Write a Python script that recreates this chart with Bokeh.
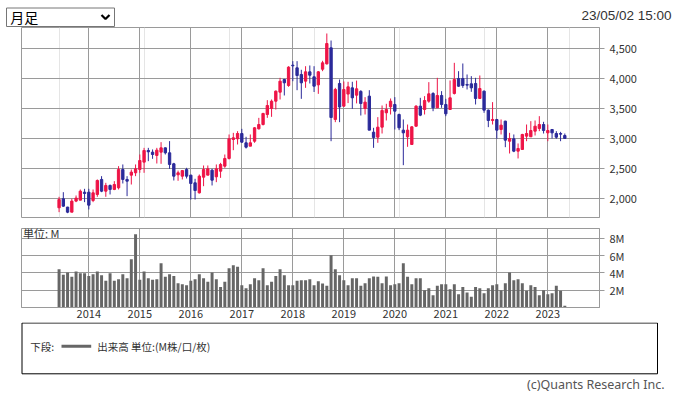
from bokeh.plotting import figure
from bokeh.layouts import column
from bokeh.models import (Range1d, FixedTicker, Grid, ColumnDataSource, Label,
                          NumeralTickFormatter, PrintfTickFormatter)
from bokeh.core.properties import value
from bokeh.embed import file_html
from bokeh.resources import INLINE

# ---------------- data (monthly, Jun 2013 .. May 2023) ----------------
start_year, start_month = 2013, 6
open_ = [1850, 2000, 1861, 1777, 1961, 1977, 2110, 2110, 1972, 2072,
         2322, 2127, 2222, 2155, 2183, 2488, 2322, 2394, 2433, 2488,
         2611, 2805, 2777, 2722, 2777, 2849, 2766, 2583, 2400, 2377,
         2488, 2394, 2266, 2099, 2360, 2394, 2477, 2366, 2460, 2544,
         2672, 2988, 3000, 3088, 2933, 2877, 2960, 3166, 3238, 3405,
         3505, 3627, 3777, 3988, 3888, 4227, 4183, 4072, 3961, 4116,
         4033, 3899, 4160, 4249, 4516, 3322, 3922, 3544, 3745, 3849,
         3727, 3790, 3505, 3711, 3110, 3027, 3194, 3433, 3533, 3572,
         3405, 3144, 3033, 2905, 3210, 3544, 3488, 3627, 3755, 3516,
         3722, 3572, 3488, 3755, 4005, 4005, 3905, 3916, 3922, 3672,
         3794, 3477, 3305, 3322, 3155, 3294, 2960, 3000, 2794, 2822,
         3044, 3033, 3127, 3172, 3238, 3099, 3155, 3088, 3088, 3055]
high = [2033, 2110, 1866, 2000, 2055, 2155, 2166, 2166, 2155, 2322,
        2377, 2266, 2238, 2294, 2544, 2572, 2377, 2488, 2572, 2738,
        2849, 2849, 2822, 2849, 2944, 2855, 2961, 2599, 2470, 2480,
        2516, 2400, 2333, 2405, 2555, 2555, 2499, 2572, 2599, 2738,
        3072, 3099, 3127, 3166, 3033, 3072, 3194, 3349, 3433, 3644,
        3655, 3805, 4016, 3999, 4210, 4294, 4294, 4150, 4210, 4222,
        4210, 4130, 4300, 4755, 4638, 3849, 3988, 3955, 3950, 3950,
        3970, 3810, 3694, 3810, 3183, 3361, 3555, 3583, 3672, 3694,
        3420, 3322, 3238, 3210, 3560, 3683, 3711, 3944, 3777, 4016,
        3794, 3666, 3972, 4266, 4127, 4255, 4072, 4044, 4016, 4055,
        3805, 3488, 3611, 3330, 3322, 3300, 3099, 3072, 2922, 3083,
        3238, 3294, 3305, 3377, 3283, 3238, 3160, 3127, 3116, 3088]
low = [1777, 1866, 1760, 1777, 1944, 1977, 1944, 1822, 1944, 2033,
       2110, 2033, 2072, 2144, 2155, 2255, 2044, 2238, 2377, 2433,
       2433, 2627, 2666, 2588, 2583, 2738, 2499, 2305, 2300, 2322,
       2338, 1988, 1988, 2088, 2210, 2394, 2222, 2277, 2349, 2516,
       2655, 2810, 2905, 2933, 2838, 2877, 2933, 3155, 3222, 3349,
       3366, 3488, 3655, 3722, 3866, 3960, 3810, 3666, 3849, 3922,
       3780, 3749, 4127, 4238, 2960, 3277, 3277, 3533, 3595, 3500,
       3590, 3388, 3405, 3144, 2849, 2933, 3088, 3305, 3405, 3155,
       3144, 2560, 2866, 2905, 3200, 3377, 3405, 3600, 3460, 3516,
       3516, 3377, 3480, 3738, 3866, 3849, 3822, 3783, 3572, 3672,
       3433, 3194, 3238, 3000, 3072, 2860, 2755, 2777, 2672, 2815,
       2960, 3033, 3055, 3127, 3088, 2960, 3005, 3000, 2960, 3000]
close = [1988, 1877, 1777, 1961, 2011, 2127, 2088, 1894, 2099, 2305,
         2127, 2222, 2155, 2238, 2488, 2322, 2294, 2444, 2499, 2638,
         2805, 2783, 2738, 2811, 2849, 2766, 2572, 2377, 2433, 2470,
         2377, 2255, 2138, 2377, 2488, 2499, 2310, 2499, 2572, 2672,
         3000, 3016, 3088, 2944, 2860, 2933, 3183, 3238, 3422, 3555,
         3627, 3794, 3960, 3933, 4194, 4216, 4055, 3933, 4116, 4060,
         3877, 4116, 4266, 4588, 3355, 3822, 3530, 3822, 3866, 3683,
         3833, 3588, 3611, 3144, 3022, 3194, 3472, 3488, 3627, 3461,
         3183, 3099, 3144, 3199, 3544, 3394, 3638, 3749, 3516, 3722,
         3572, 3416, 3683, 3988, 3877, 3888, 3894, 3849, 3672, 3838,
         3477, 3305, 3322, 3144, 3227, 2977, 3005, 2794, 2838, 3072,
         3088, 3138, 3210, 3238, 3138, 3138, 3099, 3027, 3077, 3005]
volume_m = [4.42, 3.77, 4.04, 3.54, 4.15, 3.96, 3.96, 3.65, 3.84, 4.15,
            3.73, 3.08, 3.96, 3.08, 3.27, 3.84, 3.38, 5.58, 8.46, 3.19,
            4.15, 3.38, 3.19, 3.27, 5.12, 3.54, 3.84, 3.65, 2.81, 2.69,
            2.58, 3.08, 3.27, 3.84, 3.38, 2.96, 4.04, 3.27, 2.38, 2.96,
            4.54, 4.88, 4.69, 2.58, 2.23, 2.69, 3.38, 3.15, 4.54, 2.58,
            2.96, 3.65, 4.42, 3.73, 2.58, 2.58, 3.08, 3.15, 3.15, 3.27,
            2.58, 3.04, 2.77, 2.50, 6.04, 4.42, 3.73, 3.15, 2.58, 3.38,
            3.38, 2.50, 2.81, 3.38, 3.58, 3.54, 2.81, 3.58, 2.58, 2.69,
            2.81, 5.12, 3.54, 2.69, 3.38, 3.38, 2.00, 2.23, 1.42, 2.50,
            2.69, 2.69, 2.11, 2.69, 1.54, 2.38, 1.73, 1.23, 2.38, 2.23,
            1.65, 2.23, 2.58, 2.69, 2.00, 2.81, 4.04, 3.15, 3.27, 2.81,
            1.92, 2.58, 2.38, 1.42, 2.00, 1.54, 1.65, 2.50, 1.92, 0.19]
year_labels = ["2014", "2015", "2016", "2017", "2018",
               "2019", "2020", "2021", "2022", "2023"]
price_ticks = [2000, 2500, 3000, 3500, 4000, 4500]
volume_ticks = [2, 4, 6, 8]
timestamp = "23/05/02 15:00"

# ---------------- derived ----------------
n = len(open_)
idx = list(range(n))
year_ticks = [(int(y) - start_year) * 12 + (1 - start_month) for y in year_labels]
UP, DOWN = "#EE1446", "#2B2A9A"
colors = [UP if c >= o else DOWN for o, c in zip(open_, close)]
src = ColumnDataSource(dict(
    x=idx, o=open_, h=high, l=low, c=close, v=volume_m, color=colors,
    top=[max(o, c) for o, c in zip(open_, close)],
    bottom=[min(o, c) for o, c in zip(open_, close)],
))

GRID = "#9A9A9A"
TXT = "#333333"
JP = "Noto Sans CJK JP"
W = 672
x_range = Range1d(-8.84, 127.16)


def deco_figure(h):
    f = figure(width=W, height=h, x_range=Range1d(0, W), y_range=Range1d(h, 0),
               output_backend="svg", toolbar_location=None,
               x_axis_location=None, y_axis_location=None, min_border=0)
    f.outline_line_color = None
    f.grid.visible = False
    f.frame_align = False
    return f


# ---------------- header ----------------
hdr = deco_figure(27)
hdr.quad(left=[6], right=[114], top=[7.5], bottom=[26],
         fill_color="white", line_color="#767676", line_width=1)
hdr.text(x=[9.8], y=[16.6], text=["月足"], text_font=value(JP), text_font_size="14px",
         text_baseline="middle", text_color="black")
hdr.line(x=[101, 105, 109], y=[14.5, 18.5, 14.5], line_color="black", line_width=2.2)
hdr.text(x=[671], y=[14.5], text=[timestamp], text_font=value("Liberation Sans"),
         text_font_size="13.5px", text_align="right", text_baseline="middle",
         text_color=TXT)

# ---------------- price ----------------
p = figure(width=W, height=195, x_range=x_range, y_range=Range1d(1688, 4855),
           output_backend="svg", toolbar_location=None,
           x_axis_location=None, y_axis_location="right",
           min_border_left=21, min_border_right=W - 21 - 578,
           min_border_top=0, min_border_bottom=5)
p.outline_line_color = GRID
p.yaxis.ticker = FixedTicker(ticks=price_ticks)
p.yaxis.formatter = NumeralTickFormatter(format="0,0")
p.ygrid.grid_line_color = GRID
p.add_layout(Grid(dimension=0, ticker=FixedTicker(ticks=year_ticks), grid_line_color=GRID))
p.segment(x0="x", y0="h", x1="x", y1="l", source=src, line_color="color", line_width=1)
p.vbar(x="x", top="top", bottom="bottom", width=0.55, source=src,
       fill_color="color", line_color="color", line_width=1)

# ---------------- volume ----------------
v = figure(width=W, height=100, x_range=x_range, y_range=Range1d(0, 9.12),
           output_backend="svg", toolbar_location=None, y_axis_location="right",
           min_border_left=21, min_border_right=W - 21 - 578,
           min_border_top=6, min_border_bottom=15)
v.outline_line_color = GRID
v.vbar(x="x", top="v", bottom=0, width=0.7, source=src, fill_color="#666666", line_color=None)
v.xaxis.ticker = FixedTicker(ticks=year_ticks)
v.xaxis.major_label_overrides = {t: lab for t, lab in zip(year_ticks, year_labels)}
v.xaxis.major_tick_out = 0
v.xaxis.major_tick_in = 0
v.xaxis.minor_tick_out = 0
v.xaxis.minor_tick_in = 0
v.xaxis.major_label_standoff = 2
v.xaxis.axis_line_color = GRID
v.yaxis.ticker = FixedTicker(ticks=volume_ticks)
v.yaxis.formatter = PrintfTickFormatter(format="%dM")
v.grid.grid_line_color = GRID
v.add_layout(Label(x=-8.5, y=8.62, text="単位: M", text_font=JP, text_font_size="11px",
                   text_baseline="middle", text_color=TXT))

for ax in (p.yaxis, v.yaxis):
    ax.major_tick_out = 5
    ax.major_tick_in = 0
    ax.minor_tick_out = 0
    ax.minor_tick_in = 0
    ax.major_tick_line_color = GRID
    ax.axis_line_color = GRID
    ax.major_label_standoff = 5
for ax in (p.yaxis, v.yaxis, v.xaxis):
    ax.major_label_text_font = JP
    ax.major_label_text_font_size = "11px"
    ax.major_label_text_color = TXT

# ---------------- legend / footer ----------------
lg = deco_figure(72)
lg.quad(left=[21.5], right=[657], top=[0.5], bottom=[51.3],
        fill_color=None, line_color="black", line_width=1)
lg.text(x=[29.7], y=[23.7], text=["下段:"], text_font=value(JP), text_font_size="10.5px",
        text_baseline="middle", text_color=TXT)
lg.line(x=[61, 90.7], y=[23.7, 23.7], line_color="#666666", line_width=3)
lg.text(x=[96.7], y=[23.7], text=["出来高 単位:(M株/口/枚)"], text_font=value(JP),
        text_font_size="10.5px", text_baseline="middle", text_color=TXT)
lg.text(x=[664], y=[62], text=["(c)Quants Research Inc."], text_font=value("Noto Sans"),
        text_font_size="12.5px", text_align="right", text_baseline="middle",
        text_color="#555555")

layout = column(hdr, p, v, lg, spacing=0)
open("out.html", "w").write(file_html(layout, INLINE))
